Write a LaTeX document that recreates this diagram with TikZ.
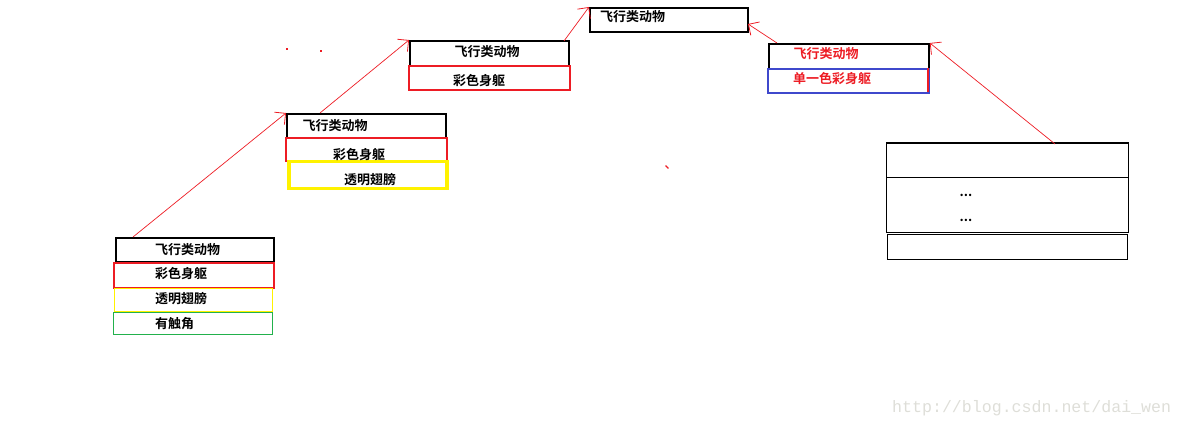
\documentclass[tikz,border=0pt]{standalone}
\usepackage{fontspec}
\newfontfamily\cjk{Noto Sans CJK SC}[BoldFont={Noto Sans CJK SC Bold}]
\newfontfamily\wm{Liberation Mono}
\usetikzlibrary{arrows.meta}
\definecolor{rd}{RGB}{237,28,36}
\definecolor{yl}{RGB}{255,242,0}
\definecolor{gn}{RGB}{34,177,76}
\definecolor{bl}{RGB}{63,72,204}
\definecolor{wmc}{RGB}{222,222,216}
\tikzset{
  box/.style={draw, anchor=north west, inner sep=0pt, minimum width=#1},
  lbl/.style={font=\cjk\bfseries\fontsize{13}{13}\selectfont, text=black, inner sep=0pt},
  inh/.style={draw=rd, line width=0.7pt, -{Straight Barb[length=8pt,width=16pt,line width=0.8pt]}},
  dot/.style={fill=rd, inner sep=0pt, minimum size=1.5pt}
}
\begin{document}
\begin{tikzpicture}[x=1pt,y=-1pt]
\useasboundingbox (0,0) rectangle (1184,427);
% top box
\node[box=158pt, minimum height=24pt, line width=2pt] (top) at (589,7) {};
\node[lbl, anchor=west] (topt) at (600,17) {飞行类动物};
% box 2
\node[box=159pt, minimum height=25pt, line width=1.8pt] (b2a) at (409,40) {};
\node[box=161pt, minimum height=24pt, draw=rd, line width=2pt] (b2b) at (408,65) {};
\node[lbl] (b2at) at (487,52) {飞行类动物};
\node[lbl] (b2bt) at (479,81) {彩色身躯};
% right box
\node[box=160pt, minimum height=25pt, line width=1.8pt] (r1) at (768,43) {};
\node[box=161pt, minimum height=24pt, draw=bl, line width=2pt] (r2) at (767,68) {};
\draw[rd, line width=2pt] (928,68) -- (928,92);
\node[lbl, text=rd] (r1t) at (826,54) {飞行类动物};
\node[lbl, text=rd] (r2t) at (832,79) {单一色彩身躯};
% box 3
\node[box=159pt, minimum height=24pt, line width=1.8pt] (b3a) at (286,113) {};
\node[box=161pt, minimum height=23pt, draw=rd, line width=2pt] (b3b) at (285,137) {};
\node[box=158pt, minimum height=27pt, draw=yl, line width=3.5pt] (b3c) at (287,160) {};
\node[lbl] (b3at) at (335,126) {飞行类动物};
\node[lbl] (b3bt) at (359,155) {彩色身躯};
\node[lbl] (b3ct) at (370,180) {透明翅膀};
% box 4
\node[box=158pt, minimum height=24pt, line width=1.8pt] (b4a) at (115,237) {};
\node[box=160pt, minimum height=25pt, draw=rd, line width=2pt] (b4b) at (113,262) {};
\node[box=158pt, minimum height=23pt, draw=yl, line width=1.2pt] (b4c) at (114,288) {};
\node[box=159pt, minimum height=22pt, draw=gn, line width=1pt] (b4d) at (113,312) {};
\node[lbl, anchor=west] (b4at) at (155,250) {飞行类动物};
\node[lbl, anchor=west] (b4bt) at (155,274) {彩色身躯};
\node[lbl, anchor=west] (b4ct) at (155,299) {透明翅膀};
\node[lbl, anchor=west] (b4dt) at (155,324) {有触角};
% right class box
\node[box=242pt, minimum height=89pt, line width=1pt] (cls) at (886,143) {};
\draw[line width=2pt] (cls.north west) -- (cls.north east);
\draw[line width=1pt] (886,178) -- (1128,178);
\node[lbl] (d1) at (966,195) {...};
\node[lbl] (d2) at (966,220) {...};
\node[box=240pt, minimum height=25pt, line width=1pt] (cls2) at (887,234) {};
% connectors
\coordinate (s1) at (133,237);
\coordinate (s2) at (320,113);
\coordinate (s3) at (564,41);
\coordinate (s4) at (777,43);
\coordinate (s5) at (1055,144);
\coordinate (t3) at (748,24);
\draw[inh] (s1) -- (b3a.north west);
\draw[inh] (s2) -- (b2a.north west);
\draw[inh] (s3) -- (top.north west);
\draw[inh] (s4) -- (t3);
\draw[inh] (s5) -- (r1.north east);
% stray dots
\node[dot] (p1) at (287,49) {};
\node[dot] (p2) at (321,51) {};
\node[dot, rotate=-45, minimum width=4pt, minimum height=1.2pt] (p3) at (667,167) {};
% watermark
\node[font=\wm\fontsize{16.6}{16.6}\selectfont, text=wmc, anchor=west, inner sep=0pt] (wm) at (892,408) {http://blog.csdn.net/dai\_wen};
\end{tikzpicture}
\end{document}
